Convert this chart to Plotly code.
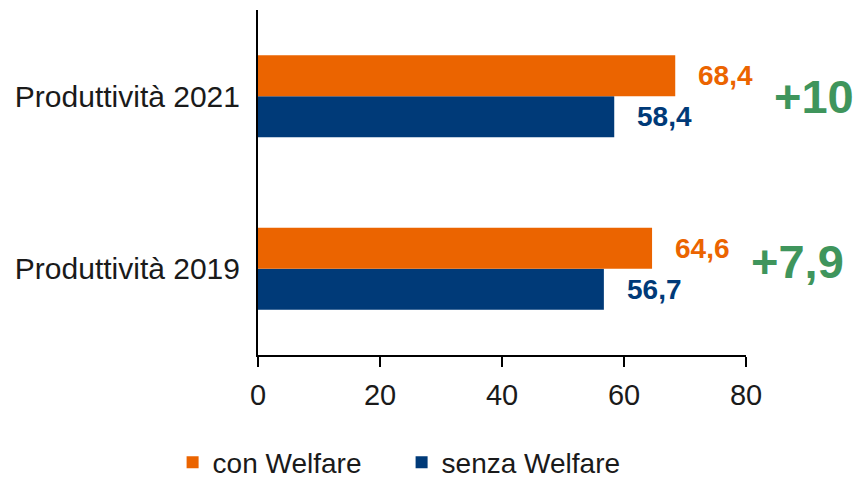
import plotly.graph_objects as go

# Data
categories = ["Produttività 2019", "Produttività 2021"]
con_welfare = [64.6, 68.4]
senza_welfare = [56.7, 58.4]
series_names = ["con Welfare", "senza Welfare"]
x_ticks = [0, 20, 40, 60, 80]

ORANGE = "#EB6400"
BLUE = "#003A78"
GREEN = "#3F955C"
FONT = "Liberation Sans"


def it_num(v, keep_decimal=True):
    """Italian-style number: comma decimal separator."""
    if not keep_decimal and abs(v - round(v)) < 1e-9:
        return f"{int(round(v))}"
    return f"{v:.1f}".replace(".", ",")


fig = go.Figure()

# blue first so that the orange bar sits above it in each group
fig.add_trace(go.Bar(
    y=categories, x=senza_welfare, name=series_names[1], orientation="h",
    marker=dict(color=BLUE, line=dict(width=0)), legendrank=2,
))
fig.add_trace(go.Bar(
    y=categories, x=con_welfare, name=series_names[0], orientation="h",
    marker=dict(color=ORANGE, line=dict(width=0)), legendrank=1,
))

annotations = []
BAR_SHIFT = 20.5  # half of a bar thickness, px
for cat, c_val, s_val in zip(categories, con_welfare, senza_welfare):
    annotations.append(dict(
        x=c_val, y=cat, xref="x", yref="y", text=it_num(c_val),
        xanchor="left", yanchor="middle", xshift=21, yshift=BAR_SHIFT,
        showarrow=False, font=dict(family=FONT, size=28, color=ORANGE, weight="bold"),
    ))
    annotations.append(dict(
        x=s_val, y=cat, xref="x", yref="y", text=it_num(s_val),
        xanchor="left", yanchor="middle", xshift=21, yshift=-BAR_SHIFT,
        showarrow=False, font=dict(family=FONT, size=28, color=BLUE, weight="bold"),
    ))
    diff = round(c_val - s_val, 1)
    annotations.append(dict(
        x=c_val, y=cat, xref="x", yref="y", text="+" + it_num(diff, keep_decimal=False),
        xanchor="left", yanchor="middle", xshift=97,
        yshift=0 if cat.endswith("2021") else 7,
        showarrow=False, font=dict(family=FONT, size=47, color=GREEN, weight="bold"),
    ))

fig.update_layout(
    width=858, height=480,
    margin=dict(l=258, r=112, t=10, b=125, autoexpand=False),
    paper_bgcolor="white", plot_bgcolor="white",
    barmode="group", bargap=0.525, bargroupgap=0,
    showlegend=True,
    legend=dict(
        orientation="h", x=-0.175, xanchor="left", y=-0.312, yanchor="middle",
        entrywidth=184, entrywidthmode="pixels",
        font=dict(family=FONT, size=28, color="#1a1a1a"),
        itemclick=False, itemdoubleclick=False,
    ),
    annotations=annotations,
    font=dict(family=FONT, color="#1a1a1a"),
)

fig.update_xaxes(
    range=[0, 80], tickvals=x_ticks, ticktext=[str(t) for t in x_ticks],
    showgrid=False, zeroline=False,
    showline=True, linecolor="black", linewidth=1.5,
    ticks="outside", ticklen=10, tickwidth=1.5, tickcolor="black",
    tickfont=dict(family=FONT, size=29, color="#1a1a1a"),
    ticklabelstandoff=3,
    automargin=False,
)
fig.update_yaxes(
    type="category", categoryorder="array", categoryarray=categories,
    showgrid=False, zeroline=False,
    showline=True, linecolor="black", linewidth=2,
    ticks="", ticklabelstandoff=10,
    tickfont=dict(family=FONT, size=30, color="#1a1a1a"),
    automargin=False,
)

fig.write_html("out.html")
